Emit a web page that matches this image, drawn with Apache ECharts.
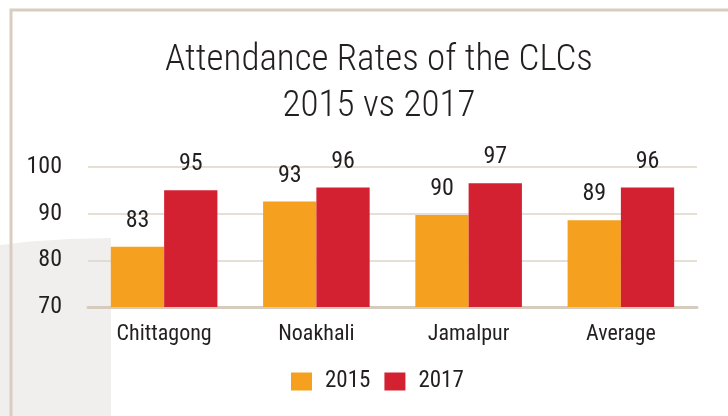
<!DOCTYPE html>
<html>
<head>
<meta charset="utf-8">
<script src="https://cdn.jsdelivr.net/npm/echarts@6/dist/echarts.min.js"></script>
<style>
  html, body { margin: 0; padding: 0; background: #fff; }
  #chart { width: 728px; height: 416px; }
</style>
</head>
<body>
<div id="chart"></div>
<script>
const FONT = '"Roboto Condensed", "Liberation Sans Narrow", "DejaVu Sans Condensed", sans-serif';
const TEXT = '#231f20';

const categories = ['Chittagong', 'Noakhali', 'Jamalpur', 'Average'];
const rates2015 = [82.9, 92.6, 89.7, 88.6];
const rates2017 = [95.0, 95.6, 96.5, 95.6];
const yTicks = [70, 80, 90, 100];

const chart = echarts.init(document.getElementById('chart'), null, { renderer: 'canvas' });

const barLabel = {
  show: true,
  position: 'top',
  distance: 14,
  fontFamily: FONT,
  fontSize: 24,
  color: TEXT,
  formatter: p => Math.round(p.value)
};

chart.setOption({
  animation: false,
  backgroundColor: '#fff',
  title: {
    text: 'Attendance Rates of the CLCs\n2015 vs 2017',
    left: 379,
    top: 38,
    padding: 0,
    textAlign: 'center',
    textStyle: {
      fontFamily: FONT,
      fontSize: 37,
      fontWeight: 300,
      lineHeight: 46,
      color: TEXT
    }
  },
  graphic: [
    {
      type: 'polygon',
      z: -10,
      shape: { points: [[0, 245], [30, 241.5], [70, 239], [111, 238], [111, 416], [0, 416]] },
      style: { fill: '#f0efed' },
      silent: true
    },
    {
      type: 'polyline',
      z: 10,
      shape: { points: [[11, 416], [11, 10], [728, 10]] },
      style: { stroke: '#d7cebf', lineWidth: 3, fill: null },
      silent: true
    }
  ],
  legend: {
    data: ['2015', '2017'],
    left: 291,
    top: 370,
    padding: 0,
    itemWidth: 21,
    itemHeight: 18,
    itemGap: 14,
    icon: 'rect',
    textStyle: {
      fontFamily: FONT,
      fontSize: 23,
      color: TEXT,
      padding: [0, 0, 0, 8]
    }
  },
  grid: { left: 88, right: 31, top: 167, bottom: 109 },
  xAxis: {
    type: 'category',
    data: categories,
    axisLine: { lineStyle: { color: '#d5ccbd', width: 3 } },
    axisTick: { show: false },
    axisLabel: {
      fontFamily: FONT,
      fontSize: 22,
      color: TEXT,
      margin: 16
    }
  },
  yAxis: {
    type: 'value',
    min: yTicks[0],
    max: yTicks[yTicks.length - 1],
    interval: 10,
    axisLine: { show: false },
    axisTick: { show: false },
    axisLabel: {
      fontFamily: FONT,
      fontSize: 24,
      color: TEXT,
      margin: 26
    },
    splitLine: { lineStyle: { color: '#dcd5c9', width: 1.5 } }
  },
  series: [
    {
      name: '2015',
      type: 'bar',
      data: rates2015,
      barGap: '0%',
      barCategoryGap: '30%',
      itemStyle: { color: '#f5a01f' },
      label: barLabel
    },
    {
      name: '2017',
      type: 'bar',
      data: rates2017,
      itemStyle: { color: '#d42132' },
      label: barLabel
    }
  ]
});
</script>
</body>
</html>
